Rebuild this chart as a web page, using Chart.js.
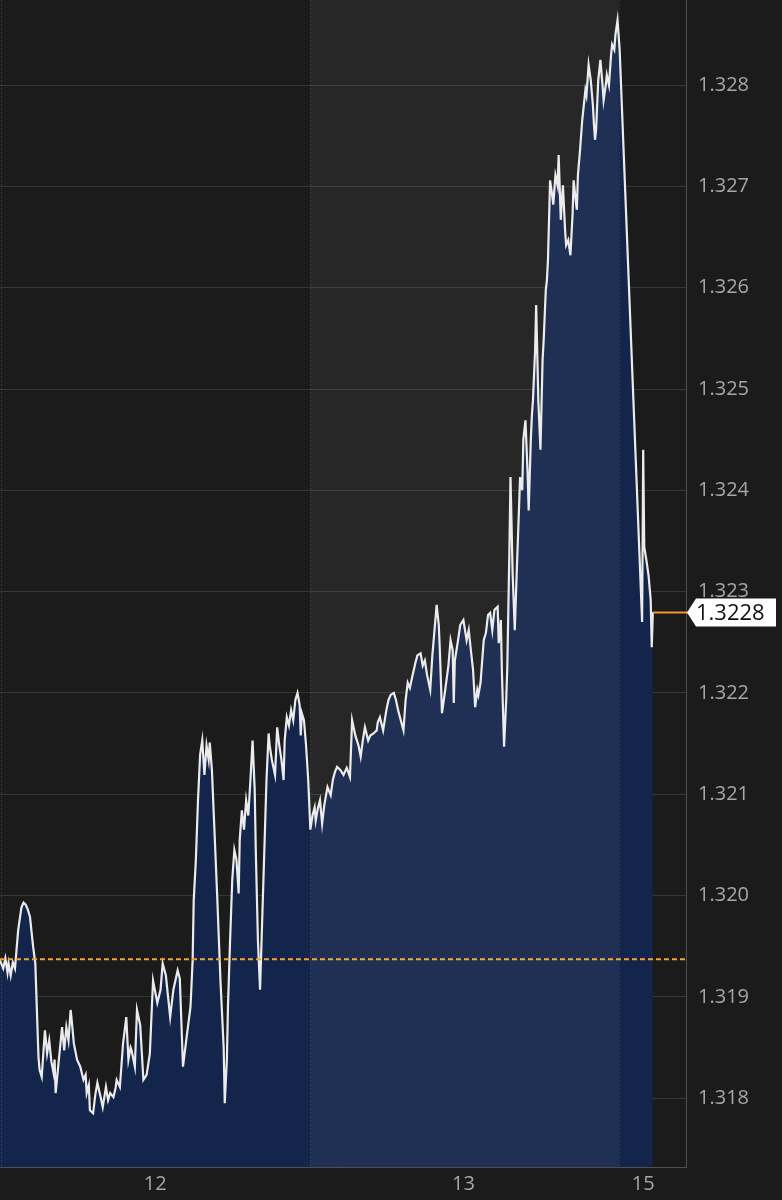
<!DOCTYPE html>
<html>
<head>
<meta charset="utf-8">
<script src="https://cdn.jsdelivr.net/npm/chart.js@4"></script>
<style>
  html, body { margin: 0; padding: 0; background: #1b1b1b; }
  #chart { width: 782px; height: 1200px; }
</style>
</head>
<body>
<div id="chart"><canvas id="myChart" width="782" height="1200"></canvas></div>
<script>
// 5-minute bar index from the start of the window, and price at that bar
const bars = [
  0, 3, 5, 7, 8, 10, 12, 14, 17, 20, 22, 24, 26, 28, 31, 33, 35, 36, 37, 39,
  41, 42, 44, 46, 48, 50, 51, 52, 55, 58, 60, 62, 64, 66, 67, 69, 72, 75, 78, 80,
  81, 83, 84, 87, 89, 91, 94, 96, 99, 101, 103, 106, 108, 109, 112, 115, 118, 120, 122, 123,
  126, 128, 131, 134, 137, 140, 143, 147, 150, 152, 155, 159, 162, 166, 168, 171, 174, 178, 180, 181,
  183, 185, 187, 189, 191, 193, 195, 196, 198, 200, 203, 206, 209, 210, 212, 213, 215, 217, 219, 221,
  223, 224, 226, 228, 230, 232, 234, 236, 238, 239, 241, 243, 245, 247, 249, 251, 252, 254, 257, 259,
  261, 263, 265, 266, 268, 270, 272, 274, 276, 278, 280, 281, 282, 284, 286, 288, 290, 292, 294, 295,
  297, 299, 301, 303, 306, 309, 311, 313, 315, 318, 321, 324, 327, 329, 332, 335, 337, 339, 341, 344,
  346, 349, 352, 353, 355, 358, 361, 363, 365, 368, 370, 372, 374, 377, 379, 381, 383, 385, 388, 390,
  393, 395, 397, 399, 402, 404, 406, 408, 410, 411, 413, 416, 419, 421, 423, 424, 425, 428, 430, 433,
  436, 438, 440, 442, 444, 446, 447, 449, 452, 454, 456, 458, 460, 462, 465, 466, 468, 469, 471, 473,
  474, 476, 477, 479, 481, 483, 486, 488, 489, 491, 493, 494, 496, 497, 498, 500, 501, 503, 505, 507,
  508, 510, 511, 512, 514, 516, 517, 519, 521, 522, 524, 525, 526, 528, 529, 531, 533, 535, 536, 538,
  539, 540, 542, 544, 545, 547, 548, 550, 552, 554, 555, 556, 557, 559, 561, 563, 564, 566, 567, 569,
  570, 571, 572, 574, 575, 577, 579, 600, 601, 602, 604, 606, 607, 608, 609, 610
];
const prices = [
  1.31936, 1.31928, 1.31938, 1.31924, 1.31933, 1.31921, 1.31934, 1.31928, 1.31966, 1.31988,
  1.31993, 1.31991, 1.31986, 1.31979, 1.31949, 1.31933, 1.31870, 1.31840, 1.31828, 1.31821,
  1.31852, 1.31867, 1.31844, 1.31857, 1.31836, 1.31825, 1.31838, 1.31805, 1.31838, 1.31870,
  1.31847, 1.31870, 1.31857, 1.31887, 1.31877, 1.31854, 1.31838, 1.31831, 1.31818, 1.31823,
  1.31805, 1.31813, 1.31788, 1.31785, 1.31803, 1.31815, 1.31801, 1.31791, 1.31811, 1.31798,
  1.31805, 1.31801, 1.31810, 1.31818, 1.31811, 1.31854, 1.31880, 1.31838, 1.31850, 1.31847,
  1.31831, 1.31887, 1.31872, 1.31818, 1.31823, 1.31844, 1.31916, 1.31894, 1.31907, 1.31933,
  1.31921, 1.31880, 1.31907, 1.31926, 1.31918, 1.31831, 1.31857, 1.31890, 1.31936, 1.31995,
  1.32035, 1.32094, 1.32139, 1.32153, 1.32119, 1.32148, 1.32134, 1.32151, 1.32124, 1.32074,
  1.31998, 1.31916, 1.31850, 1.31795, 1.31838, 1.31890, 1.31956, 1.32015, 1.32045, 1.32035,
  1.32002, 1.32055, 1.32084, 1.32065, 1.32094, 1.32079, 1.32114, 1.32153, 1.32104, 1.32045,
  1.31956, 1.31907, 1.31976, 1.32045, 1.32114, 1.32160, 1.32148, 1.32134, 1.32119, 1.32166,
  1.32148, 1.32134, 1.32114, 1.32153, 1.32176, 1.32168, 1.32183, 1.32173, 1.32193, 1.32200,
  1.32188, 1.32158, 1.32180, 1.32173, 1.32148, 1.32114, 1.32065, 1.32079, 1.32087, 1.32074,
  1.32086, 1.32094, 1.32071, 1.32089, 1.32107, 1.32099, 1.32114, 1.32122, 1.32127, 1.32124,
  1.32119, 1.32126, 1.32117, 1.32173, 1.32158, 1.32148, 1.32137, 1.32153, 1.32166, 1.32153,
  1.32158, 1.32160, 1.32163, 1.32171, 1.32176, 1.32163, 1.32183, 1.32193, 1.32198, 1.32200,
  1.32193, 1.32183, 1.32175, 1.32163, 1.32193, 1.32210, 1.32205, 1.32215, 1.32229, 1.32237,
  1.32239, 1.32227, 1.32232, 1.32218, 1.32203, 1.32237, 1.32262, 1.32287, 1.32267, 1.32242,
  1.32180, 1.32203, 1.32227, 1.32252, 1.32242, 1.32190, 1.32232, 1.32252, 1.32267, 1.32272,
  1.32252, 1.32262, 1.32242, 1.32223, 1.32186, 1.32203, 1.32198, 1.32210, 1.32252, 1.32259,
  1.32277, 1.32279, 1.32262, 1.32282, 1.32285, 1.32249, 1.32272, 1.32220, 1.32147, 1.32193,
  1.32225, 1.32341, 1.32413, 1.32318, 1.32262, 1.32324, 1.32413, 1.32400, 1.32450, 1.32469,
  1.32417, 1.32380, 1.32450, 1.32474, 1.32489, 1.32538, 1.32583, 1.32489, 1.32440, 1.32529,
  1.32548, 1.32598, 1.32607, 1.32627, 1.32706, 1.32691, 1.32682, 1.32711, 1.32701, 1.32731,
  1.32667, 1.32686, 1.32701, 1.32657, 1.32642, 1.32647, 1.32632, 1.32672, 1.32706, 1.32686,
  1.32677, 1.32711, 1.32736, 1.32765, 1.32775, 1.32795, 1.32790, 1.32820, 1.32805, 1.32780,
  1.32761, 1.32746, 1.32756, 1.32805, 1.32825, 1.32800, 1.32785, 1.32800, 1.32810, 1.32800,
  1.32815, 1.32830, 1.32840, 1.32835, 1.32849, 1.32864, 1.32835, 1.32270, 1.32440, 1.32344,
  1.32331, 1.32316, 1.32304, 1.32292, 1.32245, 1.32280
];

const prevClose = 1.31937;
const lastPrice = 1.3228;
const lastLabel = '1.3228';

const yTicks = [1.318, 1.319, 1.320, 1.321, 1.322, 1.323, 1.324, 1.325, 1.326, 1.327, 1.328];
const dayTickBars = [145, 433, 601];
const dayTickLabels = ['12', '13', '15'];
const sessionLines = [1, 290, 578];
const bandFrom = 290, bandTo = 578;

const xMin = 0, xMax = 641;
const yMin = 1.31732, yMax = 1.32884;

const font = { family: '"Open Sans", "Noto Sans", sans-serif', size: 20 };

const sessionBands = {
  id: 'sessionBands',
  afterDatasetsDraw(chart) {
    const { ctx, chartArea: a, scales: { x } } = chart;
    const l = x.getPixelForValue(bandFrom), r = x.getPixelForValue(bandTo);
    ctx.save();
    ctx.fillStyle = 'rgba(255,255,255,0.055)';
    ctx.fillRect(l, a.top, r - l, a.bottom - a.top);
    ctx.strokeStyle = 'rgba(255,255,255,0.10)';
    ctx.lineWidth = 1;
    ctx.setLineDash([2, 2]);
    sessionLines.forEach(v => {
      const px = Math.round(x.getPixelForValue(v)) + 0.5;
      ctx.beginPath();
      ctx.moveTo(px, a.top);
      ctx.lineTo(px, a.bottom);
      ctx.stroke();
    });
    ctx.restore();
  }
};

const lastPriceTag = {
  id: 'lastPriceTag',
  afterDraw(chart) {
    const { ctx, chartArea: a, scales: { x, y } } = chart;
    const py = Math.round(y.getPixelForValue(lastPrice)) + 0.5;
    const px = x.getPixelForValue(bars[bars.length - 1]);
    ctx.save();
    ctx.strokeStyle = '#f29a2e';
    ctx.lineWidth = 2;
    ctx.beginPath();
    ctx.moveTo(px, py);
    ctx.lineTo(a.right + 2, py);
    ctx.stroke();

    ctx.fillStyle = '#ffffff';
    ctx.beginPath();
    ctx.moveTo(a.right + 1, py);
    ctx.lineTo(a.right + 10, py - 14);
    ctx.lineTo(a.right + 90, py - 14);
    ctx.lineTo(a.right + 90, py + 14);
    ctx.lineTo(a.right + 10, py + 14);
    ctx.closePath();
    ctx.fill();

    ctx.fillStyle = '#111111';
    ctx.font = '22px "Open Sans", "Noto Sans", sans-serif';
    ctx.textBaseline = 'middle';
    ctx.textAlign = 'left';
    ctx.fillText(lastLabel, a.right + 10, py + 1);
    ctx.restore();
  }
};

let ctx = document.getElementById('myChart').getContext('2d');
let myChart = new Chart(ctx, {
  type: 'line',
  data: {
    datasets: [{
      data: bars.map((b, i) => ({ x: b, y: prices[i] })),
      borderColor: '#ebebeb',
      borderWidth: 2.2,
      backgroundColor: '#13254b',
      fill: 'start',
      pointRadius: 0,
      tension: 0,
      order: 2
    }, {
      data: [{ x: xMin, y: prevClose }, { x: xMax, y: prevClose }],
      borderColor: '#f7a333',
      borderWidth: 2,
      borderDash: [5, 3],
      pointRadius: 0,
      fill: false,
      order: 1
    }]
  },
  options: {
    responsive: false,
    animation: false,
    events: [],
    layout: { padding: 0 },
    plugins: {
      legend: { display: false },
      tooltip: { enabled: false }
    },
    scales: {
      x: {
        type: 'linear',
        min: xMin,
        max: xMax,
        z: 1,
        grid: { display: false, drawTicks: false },
        border: { display: true, color: '#505050', width: 1 },
        afterBuildTicks: s => { s.ticks = dayTickBars.map(v => ({ value: v })); },
        afterFit: s => { s.height = 33; s.paddingLeft = 0; s.paddingRight = 0; },
        ticks: {
          autoSkip: false,
          maxRotation: 0,
          padding: 5,
          color: '#a6a6a6',
          font: font,
          callback: (v, i) => dayTickLabels[i]
        }
      },
      y: {
        type: 'linear',
        position: 'right',
        min: yMin,
        max: yMax,
        z: 1,
        grid: { color: 'rgba(255,255,255,0.12)', drawTicks: false },
        border: { display: true, color: '#505050', width: 1 },
        afterBuildTicks: s => { s.ticks = yTicks.map(v => ({ value: v })); },
        afterFit: s => { s.width = 96; s.paddingTop = 0; s.paddingBottom = 0; },
        ticks: {
          padding: 12,
          color: '#a6a6a6',
          font: font,
          callback: v => v.toFixed(3)
        }
      }
    }
  },
  plugins: [sessionBands, lastPriceTag]
});
</script>
</body>
</html>
